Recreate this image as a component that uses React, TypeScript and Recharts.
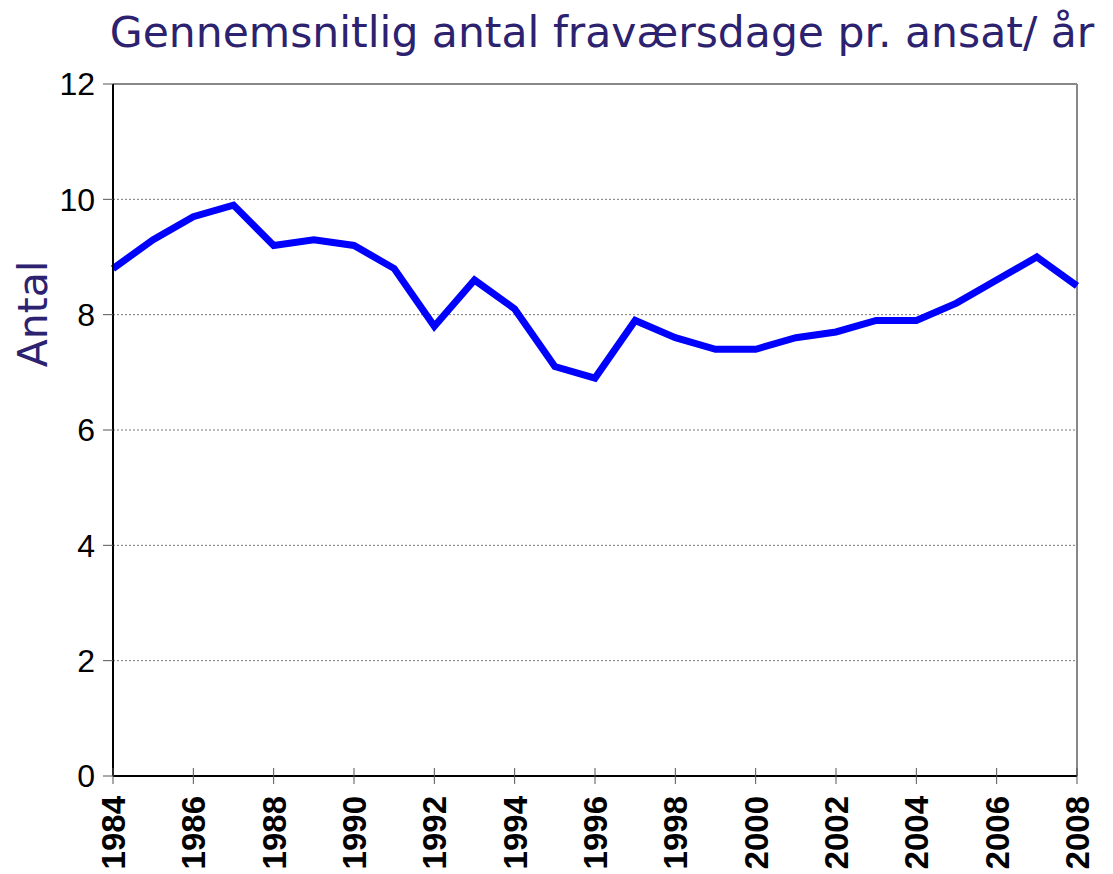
import {
  LineChart,
  Line,
  XAxis,
  YAxis,
  CartesianGrid,
  ReferenceLine,
} from 'recharts';

const years = [
  1984, 1985, 1986, 1987, 1988, 1989, 1990, 1991, 1992, 1993, 1994, 1995, 1996,
  1997, 1998, 1999, 2000, 2001, 2002, 2003, 2004, 2005, 2006, 2007, 2008,
];
const days = [
  8.8, 9.3, 9.7, 9.9, 9.2, 9.3, 9.2, 8.8, 7.8, 8.6, 8.1, 7.1, 6.9, 7.9, 7.6, 7.4,
  7.4, 7.6, 7.7, 7.9, 7.9, 8.2, 8.6, 9.0, 8.5,
];
const xTicks = [
  1984, 1986, 1988, 1990, 1992, 1994, 1996, 1998, 2000, 2002, 2004, 2006, 2008,
];
const yTicks = [0, 2, 4, 6, 8, 10, 12];

const TITLE = 'Gennemsnitlig antal fraværsdage pr. ansat/ år';
const Y_LABEL = 'Antal';
const NAVY = '#2c2270';

const data = years.map((year, i) => ({ year, days: days[i] }));

// x tick: short mark crossing the axis + bold rotated year
function YearTick(props: any) {
  const { x, y, payload } = props;
  const axisY = y - 20;
  return (
    <g>
      <line x1={x} x2={x} y1={axisY - 8} y2={axisY + 8} stroke="#555" strokeWidth={1} />
      <text
        x={x + 12}
        y={y}
        transform={`rotate(-90, ${x + 12}, ${y})`}
        textAnchor="end"
        fontFamily="'Liberation Sans', Arial, sans-serif"
        fontWeight="bold"
        fontSize={33}
        fill="#000"
      >
        {payload.value}
      </text>
    </g>
  );
}

export default function App() {
  return (
    <div style={{ position: 'absolute', left: 0, top: 0, width: 1113, height: 874, background: '#fff' }}>
      <LineChart
        width={1113}
        height={874}
        data={data}
        margin={{ top: 84, right: 36, left: 0, bottom: 0 }}
      >
        <CartesianGrid
          horizontal
          vertical={false}
          stroke="#777"
          strokeDasharray="2 2"
        />
        <XAxis
          dataKey="year"
          type="number"
          domain={[1984, 2008]}
          ticks={xTicks}
          interval={0}
          height={98}
          tickSize={8}
          tickMargin={12}
          tickLine={false}
          axisLine={{ stroke: '#000', strokeWidth: 2 }}
          tick={<YearTick />}
        />
        <YAxis
          domain={[0, 12]}
          ticks={yTicks}
          interval={0}
          width={113}
          tickSize={10}
          tickMargin={8}
          tickLine={{ stroke: '#555' }}
          axisLine={{ stroke: '#000', strokeWidth: 2 }}
          tick={{
            fill: '#000',
            fontSize: 32,
            fontFamily: "'Liberation Sans', Arial, sans-serif",
          }}
        />
        <ReferenceLine y={12} stroke="#888" strokeWidth={2} />
        <ReferenceLine x={2008} stroke="#888" strokeWidth={2} />
        <Line
          type="linear"
          dataKey="days"
          stroke="#0000ff"
          strokeWidth={7}
          dot={false}
          isAnimationActive={false}
        />
      </LineChart>
      <svg
        width={1113}
        height={874}
        style={{ position: 'absolute', left: 0, top: 0, pointerEvents: 'none' }}
      >
        <text
          x={602}
          y={47}
          textAnchor="middle"
          fontFamily="'DejaVu Sans', Verdana, sans-serif"
          fontSize={42.5}
          fill={NAVY}
        >
          {TITLE}
        </text>
        <text
          x={47}
          y={314}
          transform="rotate(-90, 47, 314)"
          textAnchor="middle"
          fontFamily="'DejaVu Sans', Verdana, sans-serif"
          fontSize={41}
          fill={NAVY}
        >
          {Y_LABEL}
        </text>
      </svg>
    </div>
  );
}
